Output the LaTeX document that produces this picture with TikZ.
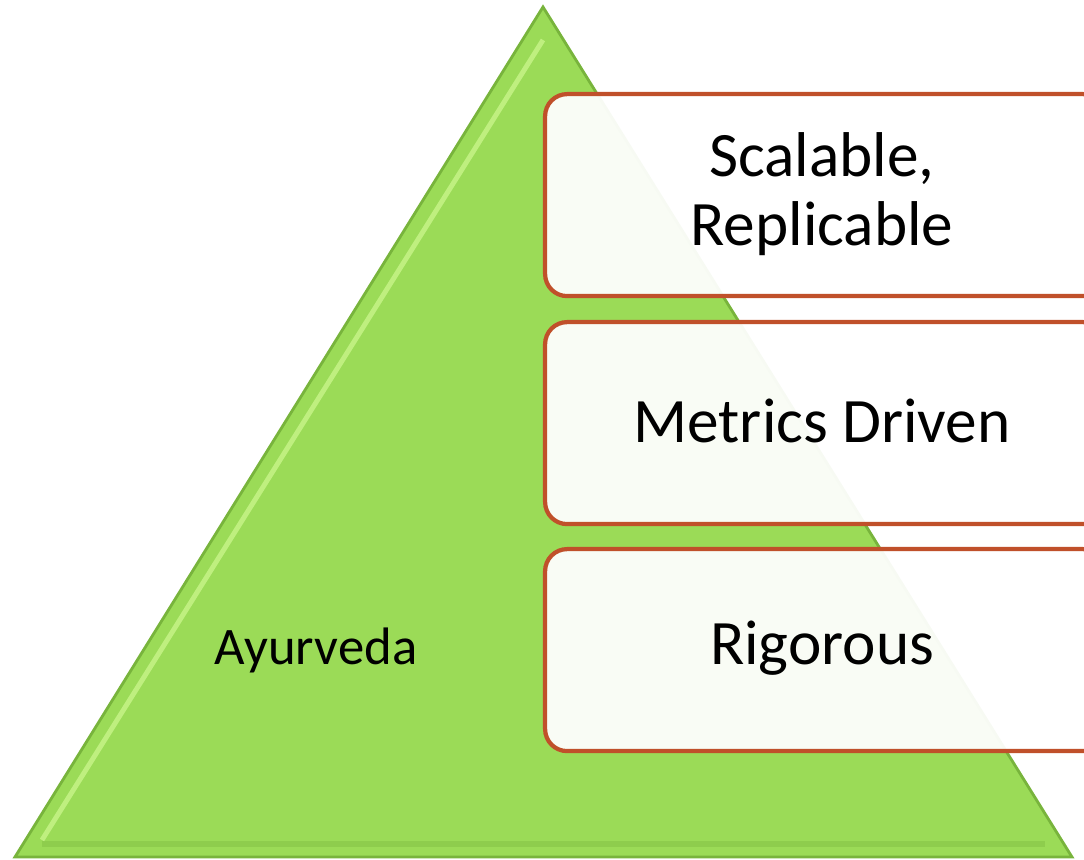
\documentclass[tikz,border=0pt]{standalone}
\usepackage{fontspec}
\setmainfont{Carlito}
\usetikzlibrary{positioning}
\definecolor{leaf}{HTML}{9BDB57}
\definecolor{leafdark}{HTML}{78B43C}
\definecolor{leaflight}{HTML}{C8F58A}
\definecolor{rust}{HTML}{C0502A}
\tikzset{
	tier/.style={draw=rust,line width=1.2pt,fill=white,fill opacity=0.94,text opacity=1,rounded corners=0.22cm,minimum width=5.6cm,minimum height=2.02cm,anchor=north west,align=center,font=\fontsize{18}{19}\selectfont},
}

\begin{document}
\begin{tikzpicture}
			\useasboundingbox (0,0) rectangle (10.84,8.6);
			\clip (0,0) rectangle (10.84,8.6);
			\coordinate (A) at (0.15,0.03);
			\coordinate (B) at (10.72,0.03);
			\coordinate (C) at (5.43,8.53);

			\fill[leaf,draw=leafdark,line width=0.8pt] (A)--(B)--(C)--cycle;
			\draw[leaflight,line width=1.4pt,opacity=0.8] (0.42,0.2)--(5.43,8.2);
			\draw[leafdark,line width=1.5pt,opacity=0.35] (0.42,0.16)--(10.45,0.16);

			\node[font=\fontsize{15}{17}\selectfont] (ayur) at (3.16,2.1) {Ayurveda};

			\node[tier] (top) at (5.43,7.68) {};
			\node[tier] (mid) at (5.43,5.40) {};
			\node[tier] (low) at (5.43,3.13) {};
			\node[font=\fontsize{18}{19.5}\selectfont,align=center] at (8.22,6.66) {Scalable,\\Replicable};
			\node[font=\fontsize{18}{19}\selectfont] at (8.22,4.39) {Metrics Driven};
			\node[font=\fontsize{18}{19}\selectfont] at (8.22,2.12) {Rigorous};
		\end{tikzpicture}
\end{document}
